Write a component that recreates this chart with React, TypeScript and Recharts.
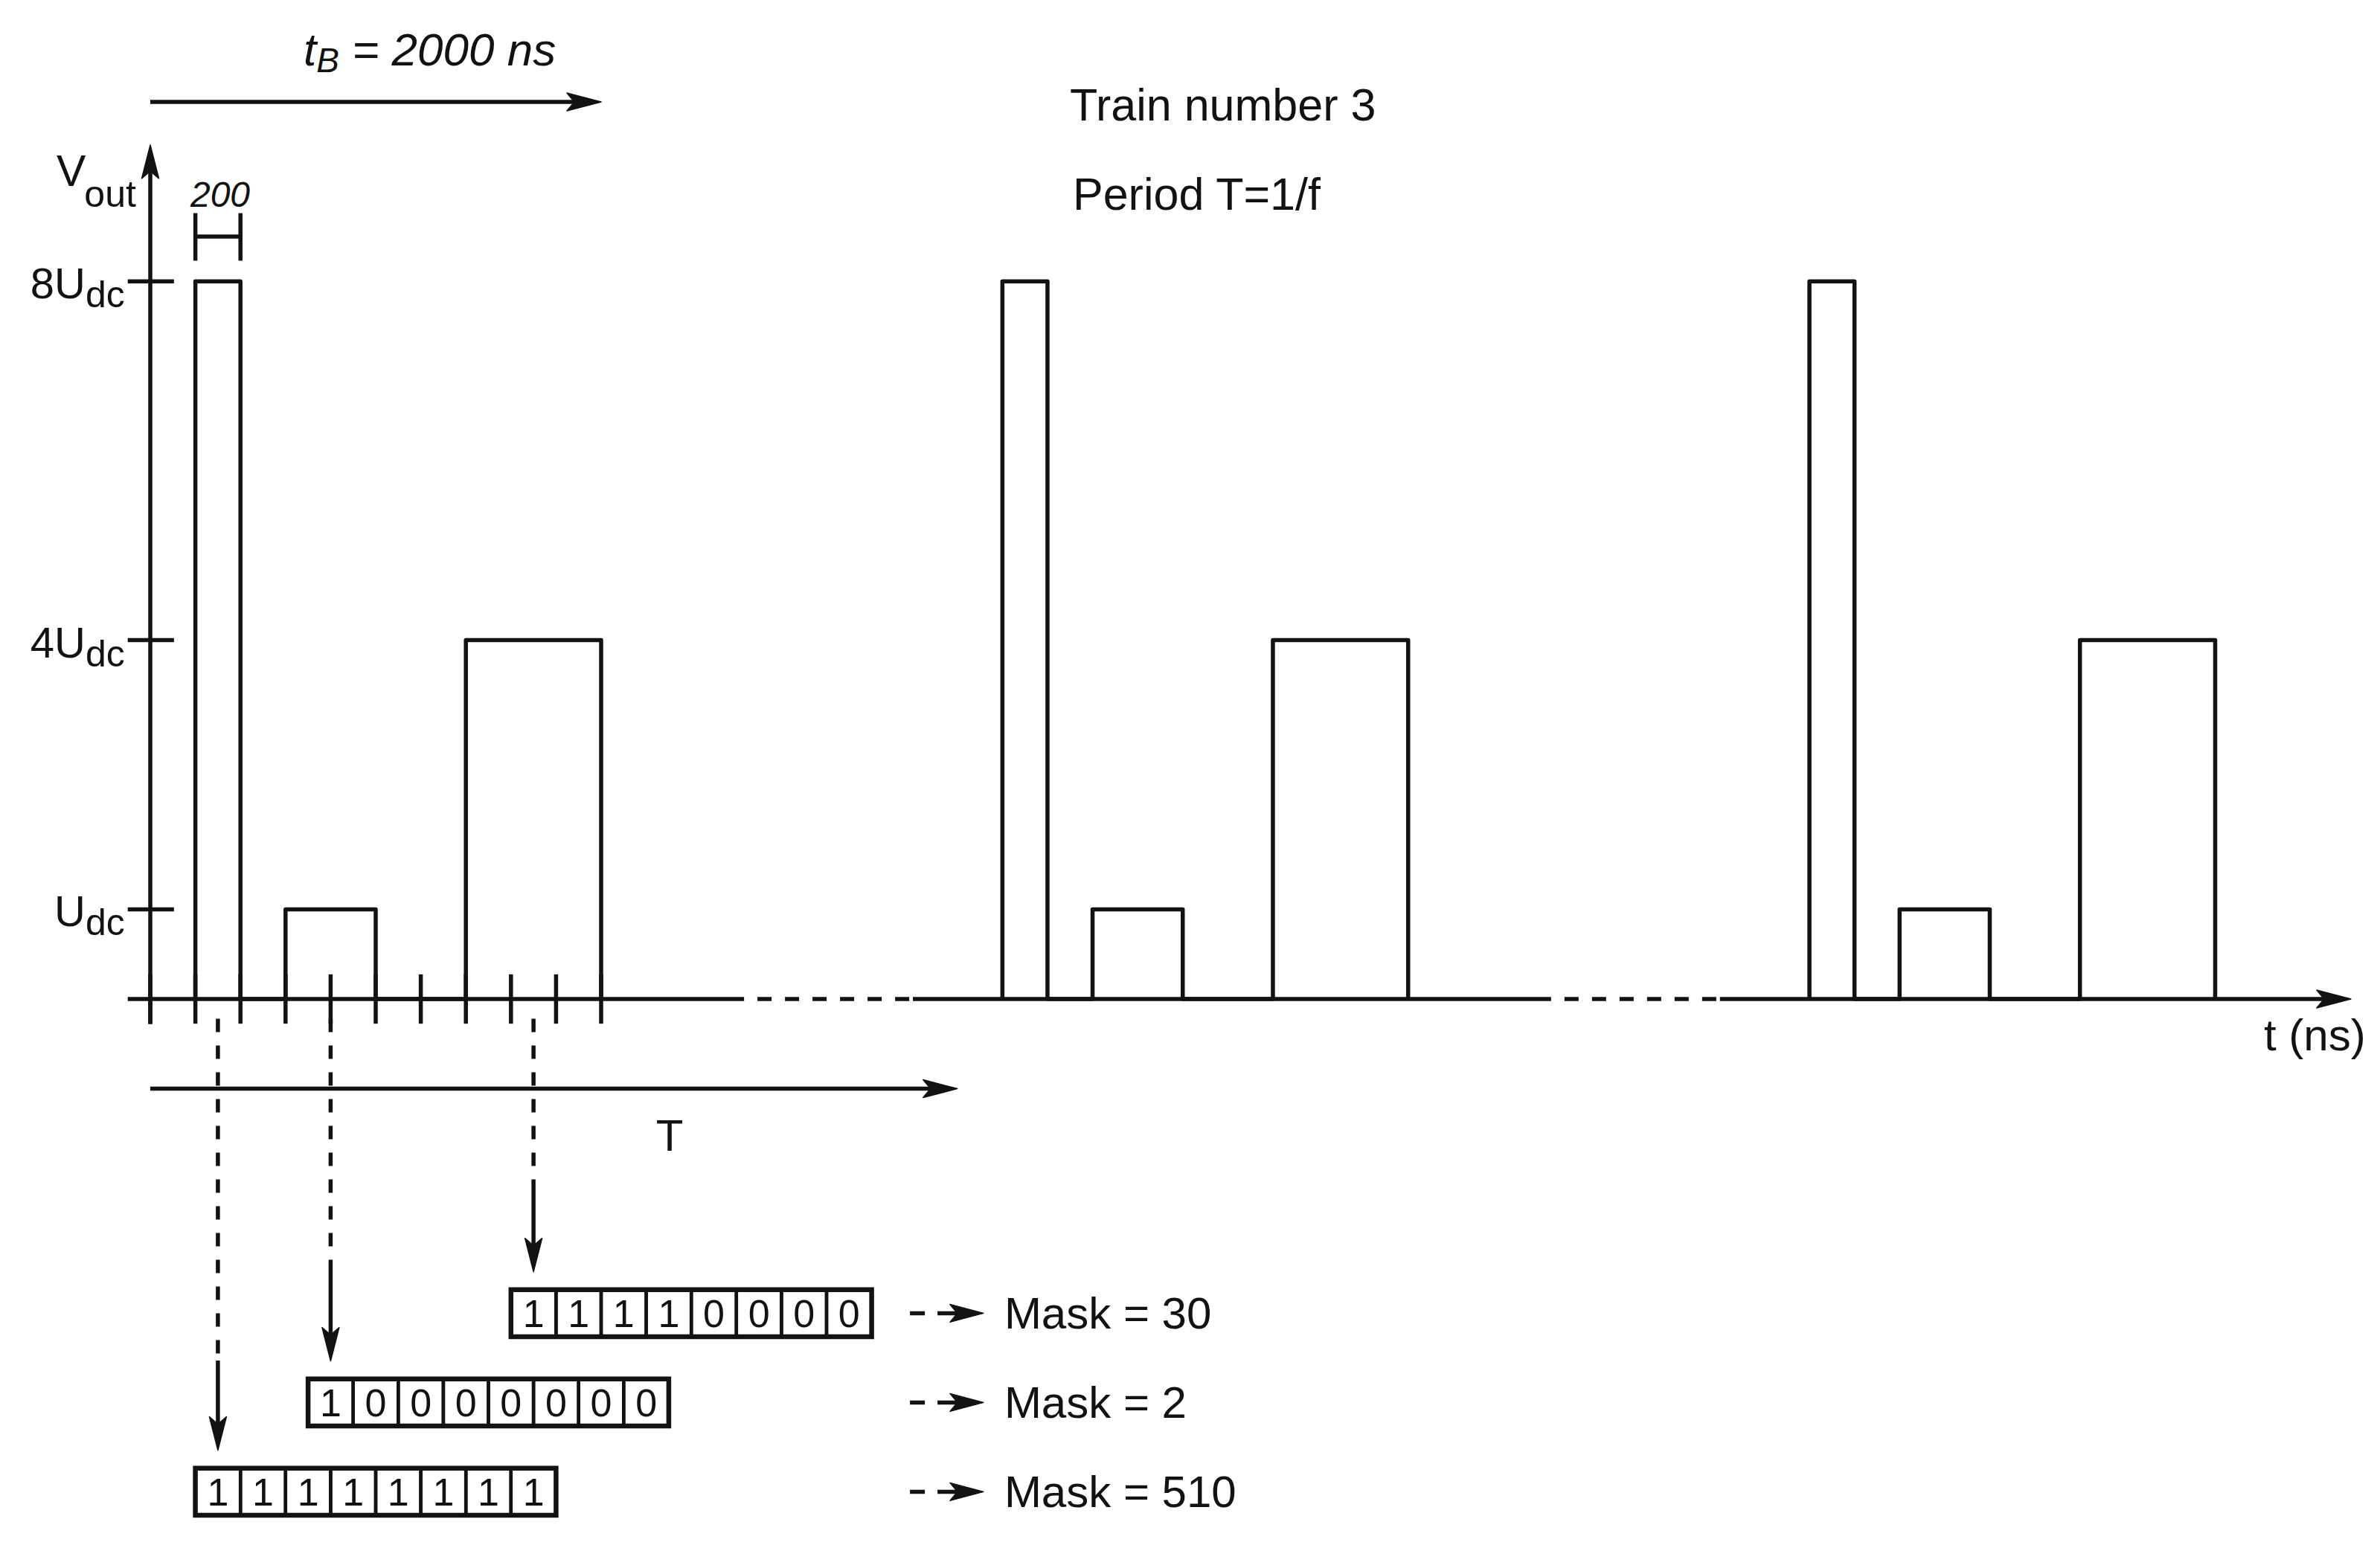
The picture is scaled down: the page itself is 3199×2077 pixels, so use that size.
import React from "react";
import { ComposedChart, Line, XAxis, YAxis, ReferenceLine, ReferenceArea } from "recharts";

const FONT = "'Liberation Sans', Arial, Helvetica, sans-serif";
const INK = "#121212";
const LW = 5.5;

// one pulse train, times in ns, levels in multiples of Udc
const pulseStart = [200, 600, 1400];
const pulseEnd = [400, 1000, 2000];
const pulseLevel = [8, 1, 4];
const trainOffset = [0, 3580, 7160];
const PERIOD = 3580;
const T_BLOCK = 2000;

const slotTicks = [0, 200, 400, 600, 800, 1000, 1200, 1400, 1600, 1800, 2000];
const levelTicks = [1, 4, 8];
const levelPrefix = ["", "4", "8"];

// time axis pieces (ns)
const axisSolid = [[-100, 2634], [3383, 6214]];
const axisDotted = [[2634, 3383], [6214, 6963]];
const axisLast = [6963, 9762];

// bit masks
const maskStart = [1600, 700, 200];
const maskPointer = [1700, 800, 300];
const maskBits = [
  [1, 1, 1, 1, 0, 0, 0, 0],
  [1, 0, 0, 0, 0, 0, 0, 0],
  [1, 1, 1, 1, 1, 1, 1, 1],
];
const maskValue = [30, 2, 510];
const SLOT = 200;

const waveform: { t: number; v: number | null }[] = [];
trainOffset.forEach((off) => {
  pulseStart.forEach((s, i) => {
    waveform.push(
      { t: off + s, v: 0 },
      { t: off + s, v: pulseLevel[i] },
      { t: off + pulseEnd[i], v: pulseLevel[i] },
      { t: off + pulseEnd[i], v: 0 }
    );
  });
  waveform.push({ t: off + pulseEnd[pulseEnd.length - 1] + 1, v: null });
});

const rowTop = (i: number) => -3.24 - 0.995 * i;
const ROW_H = 0.525;

function arrowShape(head = 45, half = 11.5, dash?: string, label?: string) {
  return (p: any) => {
    const { x1, y1, x2, y2 } = p;
    const dx = x2 - x1;
    const dy = y2 - y1;
    const len = Math.hypot(dx, dy) || 1;
    const ux = dx / len;
    const uy = dy / len;
    const nx = -uy;
    const ny = ux;
    const bx = x2 - ux * head;
    const by = y2 - uy * head;
    const mx = bx + ux * head * 0.22;
    const my = by + uy * head * 0.22;
    const pts = `${x2},${y2} ${bx + nx * half},${by + ny * half} ${mx},${my} ${bx - nx * half},${by - ny * half}`;
    return (
      <g>
        <line x1={x1} y1={y1} x2={mx} y2={my} stroke={INK} strokeWidth={LW} strokeDasharray={dash} />
        <polygon points={pts} fill={INK} stroke={INK} strokeWidth={1.5} strokeLinejoin="round" />
        {label && (
          <text x={x2 + 28} y={y2 + 21} fontFamily={FONT} fontSize={60} fill={INK}>
            {label}
          </text>
        )}
      </g>
    );
  };
}

function renderLevelTick(props: any) {
  const { x, y, payload } = props;
  const i = levelTicks.indexOf(payload.value);
  return (
    <text x={x} y={y + 23} textAnchor="end" fontFamily={FONT} fontSize={58} fill={INK}>
      {levelPrefix[i]}U
      <tspan fontSize={50} dy={12}>
        dc
      </tspan>
    </text>
  );
}

const seg = (xa: number, ya: number, xb: number, yb: number) => [
  { x: xa, y: ya },
  { x: xb, y: yb },
];

export default function App() {
  return (
    <div style={{ position: "absolute", left: 0, top: 0, width: 3199, height: 2077, background: "#fff" }}>
      <ComposedChart
        width={3199}
        height={2077}
        data={waveform}
        margin={{ top: 40.5, right: 27.6, bottom: 10.4, left: 0.7 }}
      >
        <XAxis dataKey="t" type="number" domain={[-100, 9800]} allowDataOverflow hide />
        <YAxis
          type="number"
          domain={[-6, 10.8]}
          ticks={levelTicks}
          interval={0}
          allowDataOverflow
          width={171}
          axisLine={false}
          tickLine={false}
          tickSize={0}
          tickMargin={4}
          tick={renderLevelTick}
        />

        {/* time axis */}
        {axisSolid.map(([a, b], i) => (
          <ReferenceLine key={`as${i}`} segment={seg(a, 0, b, 0)} stroke={INK} strokeWidth={LW} ifOverflow="visible" />
        ))}
        {axisDotted.map(([a, b], i) => (
          <ReferenceLine
            key={`ad${i}`}
            segment={seg(a, 0, b, 0)}
            stroke={INK}
            strokeWidth={LW}
            strokeDasharray="19 18"
            strokeDashoffset={19}
            ifOverflow="visible"
          />
        ))}
        <ReferenceLine
          segment={seg(axisLast[0], 0, axisLast[1], 0)}
          stroke={INK}
          strokeWidth={LW}
          shape={arrowShape(46, 12)}
          ifOverflow="visible"
        />

        {/* Vout axis */}
        <ReferenceLine segment={seg(0, -0.28, 0, 9.52)} stroke={INK} strokeWidth={LW} shape={arrowShape(45, 11.5)} ifOverflow="visible" />
        {levelTicks.map((v) => (
          <ReferenceLine key={`lt${v}`} segment={seg(-100, v, 105, v)} stroke={INK} strokeWidth={LW} ifOverflow="visible" />
        ))}

        {/* slot ticks */}
        {slotTicks.map((t) => (
          <ReferenceLine key={`st${t}`} segment={seg(t, -0.275, t, 0.275)} stroke={INK} strokeWidth={LW} ifOverflow="visible" />
        ))}

        {/* tB arrow, 200 ns bracket, period arrow */}
        <ReferenceLine segment={seg(0, 10, T_BLOCK, 10)} stroke={INK} strokeWidth={LW} shape={arrowShape(46, 12)} ifOverflow="visible" />
        <ReferenceLine segment={seg(pulseStart[0], 8.5, pulseEnd[0], 8.5)} stroke={INK} strokeWidth={LW} ifOverflow="visible" />
        <ReferenceLine segment={seg(pulseStart[0], 8.23, pulseStart[0], 8.76)} stroke={INK} strokeWidth={LW} ifOverflow="visible" />
        <ReferenceLine segment={seg(pulseEnd[0], 8.23, pulseEnd[0], 8.76)} stroke={INK} strokeWidth={LW} ifOverflow="visible" />
        <ReferenceLine segment={seg(0, -1, PERIOD, -1)} stroke={INK} strokeWidth={LW} shape={arrowShape(46, 12)} ifOverflow="visible" />

        {/* pointers from slots to masks */}
        {maskPointer.map((x, i) => {
          const tip = rowTop(i) + 0.2;
          const solidFrom = tip + 1.0;
          return (
            <React.Fragment key={`mp${i}`}>
              <ReferenceLine
                segment={seg(x, -0.22, x, solidFrom)}
                stroke={INK}
                strokeWidth={LW}
                strokeDasharray="18 18"
                ifOverflow="visible"
              />
              <ReferenceLine segment={seg(x, solidFrom, x, tip)} stroke={INK} strokeWidth={LW} shape={arrowShape(45, 11.5)} ifOverflow="visible" />
            </React.Fragment>
          );
        })}

        {/* bit boxes */}
        {maskBits.map((bits, i) =>
          bits.map((b, j) => (
            <ReferenceArea
              key={`c${i}-${j}`}
              x1={maskStart[i] + j * SLOT}
              x2={maskStart[i] + (j + 1) * SLOT}
              y1={rowTop(i) - ROW_H}
              y2={rowTop(i)}
              fill="none"
              stroke={INK}
              strokeWidth={4.5}
              ifOverflow="visible"
              label={{ value: String(b), position: "center", fontSize: 52, fill: INK, fontFamily: FONT }}
            />
          ))
        )}
        {maskBits.map((bits, i) => (
          <ReferenceArea
            key={`b${i}`}
            x1={maskStart[i]}
            x2={maskStart[i] + bits.length * SLOT}
            y1={rowTop(i) - ROW_H}
            y2={rowTop(i)}
            fill="none"
            stroke={INK}
            strokeWidth={6.5}
            ifOverflow="visible"
          />
        ))}
        {maskValue.map((m, i) => (
          <ReferenceLine
            key={`ma${i}`}
            segment={seg(3370, rowTop(i) - ROW_H / 2, 3696, rowTop(i) - ROW_H / 2)}
            stroke={INK}
            strokeWidth={LW}
            shape={arrowShape(45, 12, "20 17 2000", `Mask = ${m}`)}
            ifOverflow="visible"
          />
        ))}

        <Line
          type="linear"
          dataKey="v"
          stroke={INK}
          strokeWidth={LW}
          strokeLinejoin="round"
          dot={false}
          activeDot={false}
          connectNulls={false}
          isAnimationActive={false}
        />

        {/* annotations */}
        <text x={408} y={88} fontFamily={FONT} fontSize={62} fontStyle="italic" fill={INK} style={{ whiteSpace: "pre" }}>
          t
          <tspan fontSize={46} dy={9}>B</tspan>
          <tspan dy={-9}>{" = 2000 ns"}</tspan>
        </text>
        <text x={1438} y={162} fontFamily={FONT} fontSize={61} fill={INK}>Train number 3</text>
        <text x={1442} y={282} fontFamily={FONT} fontSize={61} fill={INK}>Period T=1/f</text>
        <text x={76} y={250} fontFamily={FONT} fontSize={59} fill={INK}>
          V
          <tspan fontSize={50} dx={-2} dy={28}>out</tspan>
        </text>
        <text x={296} y={278} textAnchor="middle" fontFamily={FONT} fontSize={48} fontStyle="italic" fill={INK}>200</text>
        <text x={900} y={1547} textAnchor="middle" fontFamily={FONT} fontSize={60} fill={INK}>T</text>
        <text x={3043} y={1412} fontFamily={FONT} fontSize={60} fill={INK}>t (ns)</text>
      </ComposedChart>
    </div>
  );
}
